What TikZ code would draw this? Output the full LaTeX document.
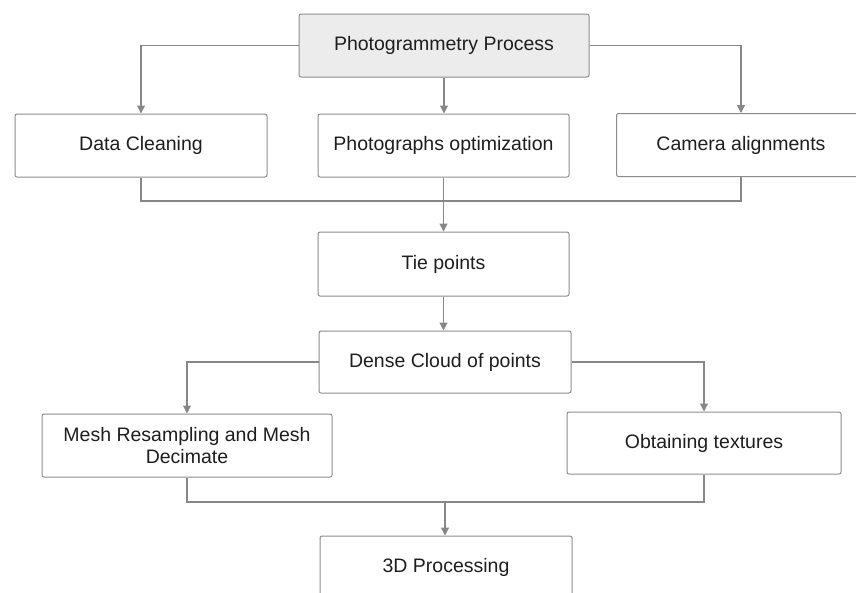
\documentclass[tikz,border=0pt]{standalone}
\usepackage{fontspec}
\setmainfont{Liberation Sans}
\usepackage{tikz}
\usetikzlibrary{arrows.meta}
\definecolor{linegray}{RGB}{135,135,135}
\definecolor{boxgray}{RGB}{140,140,140}
\definecolor{headfill}{RGB}{236,236,236}
\definecolor{inkdark}{RGB}{30,30,30}
\tikzset{%
    box/.style={%
        draw=boxgray, line width=1pt, rounded corners=2pt, fill=white,
        minimum height=63pt, inner sep=2pt, align=center, text=inkdark,
        font=\fontsize{19.5}{22.5}\selectfont
    },
    link/.style={draw=linegray, line width=1.1pt},
    arr/.style={link, -{Triangle[length=8pt,width=8pt]}}
}

\begin{document}
\begin{tikzpicture}[x=1pt,y=-1pt]
\useasboundingbox (0,0) rectangle (856,592);
\clip (0,0) rectangle (856,592);
\node[box,fill=headfill,minimum width=290pt] (proc) at (444,45.5) {Photogrammetry Process};
\node[box,minimum width=252pt] (clean) at (141,145.5) {Data Cleaning};
\node[box,minimum width=251pt] (optim) at (443.5,145.5) {Photographs optimization};
\node[box,minimum width=249pt] (camera) at (741,145) {Camera alignments};
\node[box,minimum width=251pt,minimum height=64pt] (tie) at (443.5,264) {Tie points};
\node[box,minimum width=252pt,minimum height=62pt] (dense) at (445,362) {Dense Cloud of points};
\node[box,minimum width=290pt] (mesh) at (187,445.5) {Mesh Resampling and Mesh\\Decimate};
\node[box,minimum width=274pt,minimum height=62pt] (tex) at (704,443) {Obtaining textures};
\node[box,minimum width=252pt,minimum height=62pt] (three) at (446,567) {3D Processing};
\coordinate (joinA) at (444,201);
\coordinate (joinB) at (445,502);
\draw[arr] (proc.west) -| (clean.north);
\draw[arr] (proc.south) -- (proc.south |- optim.north);
\draw[arr] (proc.east) -| (camera.north);
\draw[link] (clean.south) |- (joinA) -| (camera.south);
\draw[arr] (optim.south) -- (optim.south |- tie.north);
\draw[arr] (tie.south) -- (tie.south |- dense.north);
\draw[arr] (dense.west) -| (mesh.north);
\draw[arr] (dense.east) -| (tex.north);
\draw[link] (mesh.south) |- (joinB) -| (tex.south);
\draw[arr] (joinB) -- (joinB |- three.north);
\end{tikzpicture}
\end{document}
